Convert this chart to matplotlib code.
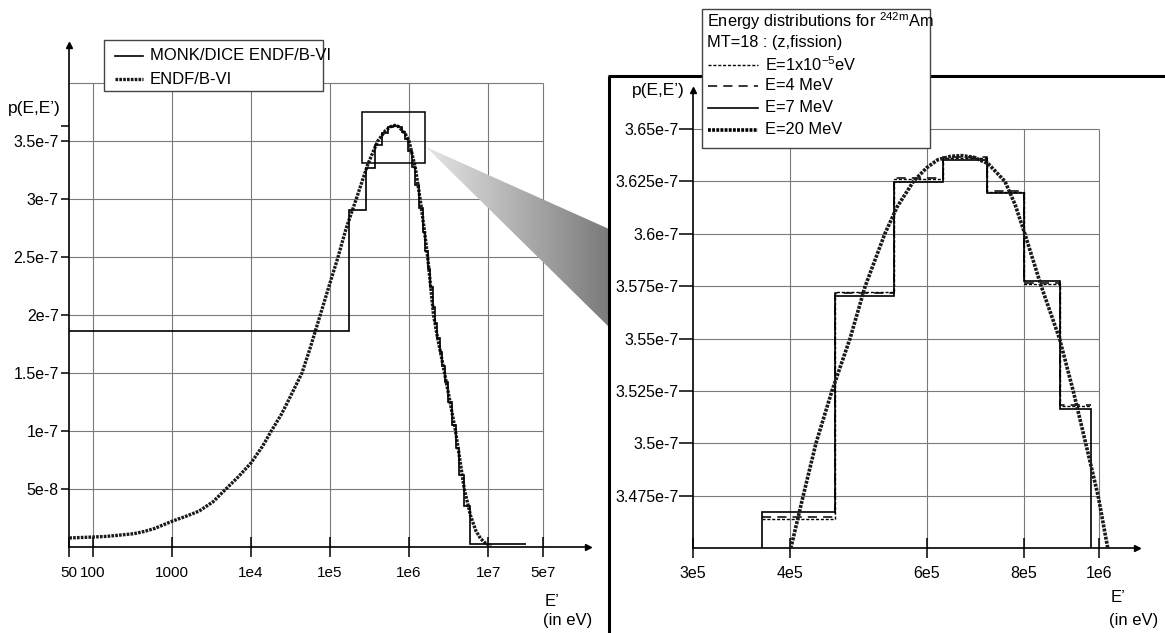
import numpy as np
import matplotlib
matplotlib.use('Agg')
import matplotlib.pyplot as plt
from matplotlib.patches import Rectangle, Polygon
from matplotlib.ticker import NullLocator

plt.rcParams['font.family'] = ['Liberation Sans', 'DejaVu Sans']
plt.rcParams['mathtext.fontset'] = 'custom'
plt.rcParams['mathtext.rm'] = 'Liberation Sans'
plt.rcParams['mathtext.it'] = 'Liberation Sans:italic'

# ---------- left panel: full spectrum (values in 1e-7) ----------
endf_e = [50, 100, 150, 200, 330, 450, 600, 1000, 1500, 2200, 3300, 4800,
          7000, 1e4, 1.4e4, 1.8e4, 2.4e4, 3e4, 4.4e4, 5.5e4, 7.5e4, 1e5,
          1.26e5, 1.6e5, 2.14e5, 3e5, 4e5, 5e5, 5.8e5, 6.6e5, 7.3e5, 8e5,
          9e5, 1e6, 1.2e6, 1.38e6, 1.55e6, 1.72e6, 2.04e6, 2.3e6, 2.6e6,
          3.2e6, 3.87e6, 4.4e6, 5e6, 6e6, 7e6, 8e6, 9e6, 1e7, 1.1e7]
endf_p = [0.078, 0.086, 0.092, 0.10, 0.115, 0.135, 0.16, 0.222, 0.265,
          0.31, 0.39, 0.50, 0.61, 0.726, 0.87, 1.00, 1.14, 1.27, 1.50, 1.70,
          2.00, 2.28, 2.50, 2.75, 3.00, 3.30, 3.50, 3.59, 3.625, 3.637,
          3.628, 3.60, 3.56, 3.50, 3.27, 3.00, 2.75, 2.50, 2.00, 1.80, 1.62,
          1.30, 1.00, 0.75, 0.50, 0.27, 0.14, 0.075, 0.04, 0.021, 0.012]

monk_edges = [50, 1.76e5, 2.83e5, 3.68e5, 4.57e5, 5.45e5, 6.3e5, 7.18e5,
              8.02e5, 8.9e5, 9.77e5, 1.08e6, 1.2e6, 1.35e6, 1.48e6, 1.6e6,
              1.73e6, 1.83e6, 1.98e6, 2.12e6, 2.28e6, 2.46e6, 2.63e6, 2.85e6,
              3.1e6, 3.46e6, 3.87e6, 4.3e6, 4.97e6, 5.85e6, 3.05e7]
monk_vals = [1.862, 2.905, 3.273, 3.4675, 3.5705, 3.6246, 3.6352, 3.6196,
             3.5777, 3.5163, 3.42, 3.28, 3.12, 2.92, 2.72, 2.55, 2.40, 2.24,
             2.07, 1.93, 1.80, 1.68, 1.56, 1.42, 1.25, 1.05, 0.85, 0.62,
             0.35, 0.026]

left_xticks = [50, 100, 1000, 1e4, 1e5, 1e6, 1e7, 5e7]
left_xlabels = ['50', '100', '1000', '1e4', '1e5', '1e6', '1e7', '5e7']
left_yticks = [0.5e-7, 1e-7, 1.5e-7, 2e-7, 2.5e-7, 3e-7, 3.5e-7]
left_ylabels = ['5e-8', '1e-7', '1.5e-7', '2e-7', '2.5e-7', '3e-7', '3.5e-7']
left_ygrid = left_yticks + [4e-7]
peak_tick = 3.632e-7

# zoom window drawn on the left panel
zoom_x = (2.54e5, 1.59e6)
zoom_y = (3.31e-7, 3.75e-7)

# ---------- right panel: zoom on the peak (values in 1e-7) ----------
bin_edges = [3.68e5, 4.57e5, 5.45e5, 6.3e5, 7.18e5, 8.02e5, 8.9e5, 9.77e5]
p_1em5 = [3.4638, 3.5724, 3.6262, 3.6362, 3.6200, 3.5760, 3.5178]
p_4mev = [3.4650, 3.5718, 3.6268, 3.6368, 3.6205, 3.5764, 3.5184]
p_7mev = [3.4675, 3.5705, 3.6246, 3.6352, 3.6196, 3.5777, 3.5163]
e20_e = [4.01e5, 4.16e5, 4.32e5, 4.53e5, 4.78e5, 5.0e5, 5.3e5, 5.5e5,
         5.77e5, 6.0e5, 6.2e5, 6.45e5, 6.66e5, 6.9e5, 7.2e5, 7.57e5,
         7.8e5, 8.03e5, 8.43e5, 8.9e5, 9.27e5, 9.62e5, 9.98e5, 1.027e6]
e20_p = [3.45, 3.475, 3.50, 3.525, 3.55, 3.575, 3.60, 3.613, 3.625, 3.6315,
         3.6353, 3.6370, 3.6373, 3.6365, 3.6335, 3.625, 3.614, 3.60, 3.575,
         3.55, 3.525, 3.50, 3.475, 3.45]

right_xticks = [3e5, 4e5, 6e5, 8e5, 1e6]
right_xlabels = ['3e5', '4e5', '6e5', '8e5', '1e6']
right_yticks = [3.475e-7, 3.5e-7, 3.525e-7, 3.55e-7, 3.575e-7, 3.6e-7,
                3.625e-7, 3.65e-7]
right_ylabels = ['3.475e-7', '3.5e-7', '3.525e-7', '3.55e-7', '3.575e-7',
                 '3.6e-7', '3.625e-7', '3.65e-7']

W, H = 1165, 633
GRID = '#7a7a7a'
DOT_THICK = (0, (0.8, 0.35))
DOT_COLOR = '#1a1a1a'
FS = 11.5

fig = plt.figure(figsize=(W / 100, H / 100), dpi=100)
fig.patch.set_facecolor('white')


def setup_axes(ax, xticks, xlabels, yticks, ylabels, ylen, ypad, xpad, xfs):
    ax.set_xscale('log')
    ax.patch.set_alpha(0)
    for s in ['top', 'right']:
        ax.spines[s].set_visible(False)
    for s in ['left', 'bottom']:
        ax.spines[s].set_linewidth(1.2)
    ax.xaxis.set_minor_locator(NullLocator())
    ax.set_xticks(xticks)
    ax.set_xticklabels(xlabels)
    ax.set_yticks(yticks)
    ax.set_yticklabels(ylabels)
    ax.tick_params(axis='x', direction='inout', length=14, width=1.1,
                   pad=xpad, labelsize=xfs)
    ax.tick_params(axis='y', direction='out', length=ylen, width=1.1,
                   pad=ypad, labelsize=FS)
    ax.plot([1], [0], marker='>', ms=5, color='k', transform=ax.transAxes,
            clip_on=False)
    ax.plot([0], [1], marker='^', ms=5, color='k', transform=ax.transAxes,
            clip_on=False)


# ---- left panel ----
axL = fig.add_axes([69.3 / W, 1 - 547 / H, (588 - 69.3) / W, (547 - 45) / H])
setup_axes(axL, left_xticks, left_xlabels, left_yticks, left_ylabels,
           6, 1.5, 7, 11)
axL.set_xlim(50, 1.84e8)
axL.set_ylim(0, 4.33e-7)
axL.set_yticks([peak_tick], minor=True)
axL.tick_params(axis='y', which='minor', direction='out', length=6, width=1.1)
axL.hlines(left_ygrid, 50, 5e7, colors=GRID, lw=0.8, zorder=0.5)
axL.vlines(left_xticks[1:], 0, 4e-7, colors=GRID, lw=0.8, zorder=0.5)

axL.plot(endf_e, np.array(endf_p) * 1e-7, ls=DOT_THICK, lw=2.4,
         color=DOT_COLOR, zorder=3)
axL.stairs(np.array(monk_vals) * 1e-7, monk_edges, baseline=None,
           color='k', lw=1.2, zorder=4)
axL.add_patch(Rectangle((zoom_x[0], zoom_y[0]), zoom_x[1] - zoom_x[0],
                        zoom_y[1] - zoom_y[0], fill=False, ec='k', lw=1.1,
                        zorder=5))

# ---- right panel ----
axR = fig.add_axes([693 / W, 1 - 548.3 / H, (1137 - 693) / W, (548.3 - 90) / H])
setup_axes(axR, right_xticks, right_xlabels, right_yticks, right_ylabels,
           10, 0.5, 6, FS)
axR.set_xlim(3e5, 1.12e6)
axR.set_ylim(3.45e-7, 3.6686e-7)
axR.hlines(right_yticks, 3e5, 1e6, colors=GRID, lw=0.8, zorder=0.5)
axR.vlines(right_xticks[1:], 3.45e-7, 3.65e-7, colors=GRID, lw=0.8, zorder=0.5)

axR.stairs(np.array(p_1em5) * 1e-7, bin_edges, baseline=None, color='k',
           lw=1.0, ls=(0, (2.2, 1.3)), zorder=3)
axR.stairs(np.array(p_4mev) * 1e-7, bin_edges, baseline=None, color='k',
           lw=1.1, ls=(0, (6, 4)), zorder=3)
axR.stairs(np.array(p_7mev) * 1e-7, bin_edges, baseline=3.45e-7, color='k',
           lw=1.2, zorder=4)
axR.plot(e20_e, np.array(e20_p) * 1e-7, ls=DOT_THICK, lw=2.6,
         color=DOT_COLOR, zorder=5)

# ---- overlay: wedge, frame, legends, labels (pixel coordinates) ----
ov = fig.add_axes([0, 0, 1, 1], zorder=10)
ov.axis('off')
ov.patch.set_alpha(0)

grad = np.linspace(0.9, 0.48, 256)[None, :] * np.ones((32, 1))
im = ov.imshow(grad, cmap='gray', vmin=0, vmax=1, aspect='auto',
               extent=(426, 609, 327, 147), interpolation='bilinear')
wedge = Polygon([(426, 147), (609, 229), (609, 327)], closed=True,
                fc='none', ec='none', transform=ov.transData)
ov.add_patch(wedge)
im.set_clip_path(wedge)
ov.set_xlim(0, W)
ov.set_ylim(H, 0)

# frame of the magnified view
ov.plot([609, 609], [75.5, H + 5], color='k', lw=2.2, clip_on=False,
        solid_capstyle='butt')
ov.plot([608, W + 5], [75.5, 75.5], color='k', lw=2.2, clip_on=False,
        solid_capstyle='butt')

# left legend
ov.add_patch(Rectangle((104, 40), 219, 51, fc='white', ec='#444', lw=1,
                       zorder=6))
ov.plot([115, 143], [56, 56], color='k', lw=1.2, zorder=7)
ov.plot([115, 143], [79, 79], color=DOT_COLOR, lw=2.4, ls=DOT_THICK, zorder=7)
ov.text(150, 56, 'MONK/DICE ENDF/B-VI', fontsize=12, va='center', zorder=8)
ov.text(150, 79, 'ENDF/B-VI', fontsize=12, va='center', zorder=8)

# right legend
ov.add_patch(Rectangle((702, 9), 228, 139, fc='white', ec='#444', lw=1,
                       zorder=6))
ov.text(707, 21, r'Energy distributions for $^{\mathrm{242m}}$Am',
        fontsize=11.8, va='center', zorder=8)
ov.text(707, 43, 'MT=18 : (z,fission)', fontsize=11.8, va='center', zorder=8)
leg_rows = [(65, r'E=1x10$^{\mathrm{-5}}$eV', dict(lw=1.0, ls=(0, (2.2, 1.3)))),
            (86, 'E=4 MeV', dict(lw=1.1, ls=(0, (6, 4)))),
            (108, 'E=7 MeV', dict(lw=1.2, ls='-')),
            (130, 'E=20 MeV', dict(lw=2.6, ls=DOT_THICK))]
for yy, lab, st in leg_rows:
    ov.plot([708, 758], [yy, yy], color='k', zorder=7, **st)
    ov.text(765, yy, lab, fontsize=11.8, va='center', zorder=8)

# axis labels
ov.text(8, 109, 'p(E,E’)', fontsize=12.5, va='center')
ov.text(632, 91, 'p(E,E’)', fontsize=12.5, va='center')
ov.text(545, 601, 'E’', fontsize=12, va='center')
ov.text(543, 621, '(in eV)', fontsize=12, va='center')
ov.text(1111, 598, 'E’', fontsize=12, va='center')
ov.text(1109, 620, '(in eV)', fontsize=12, va='center')

fig.savefig('out.png', dpi=100, facecolor='white')
